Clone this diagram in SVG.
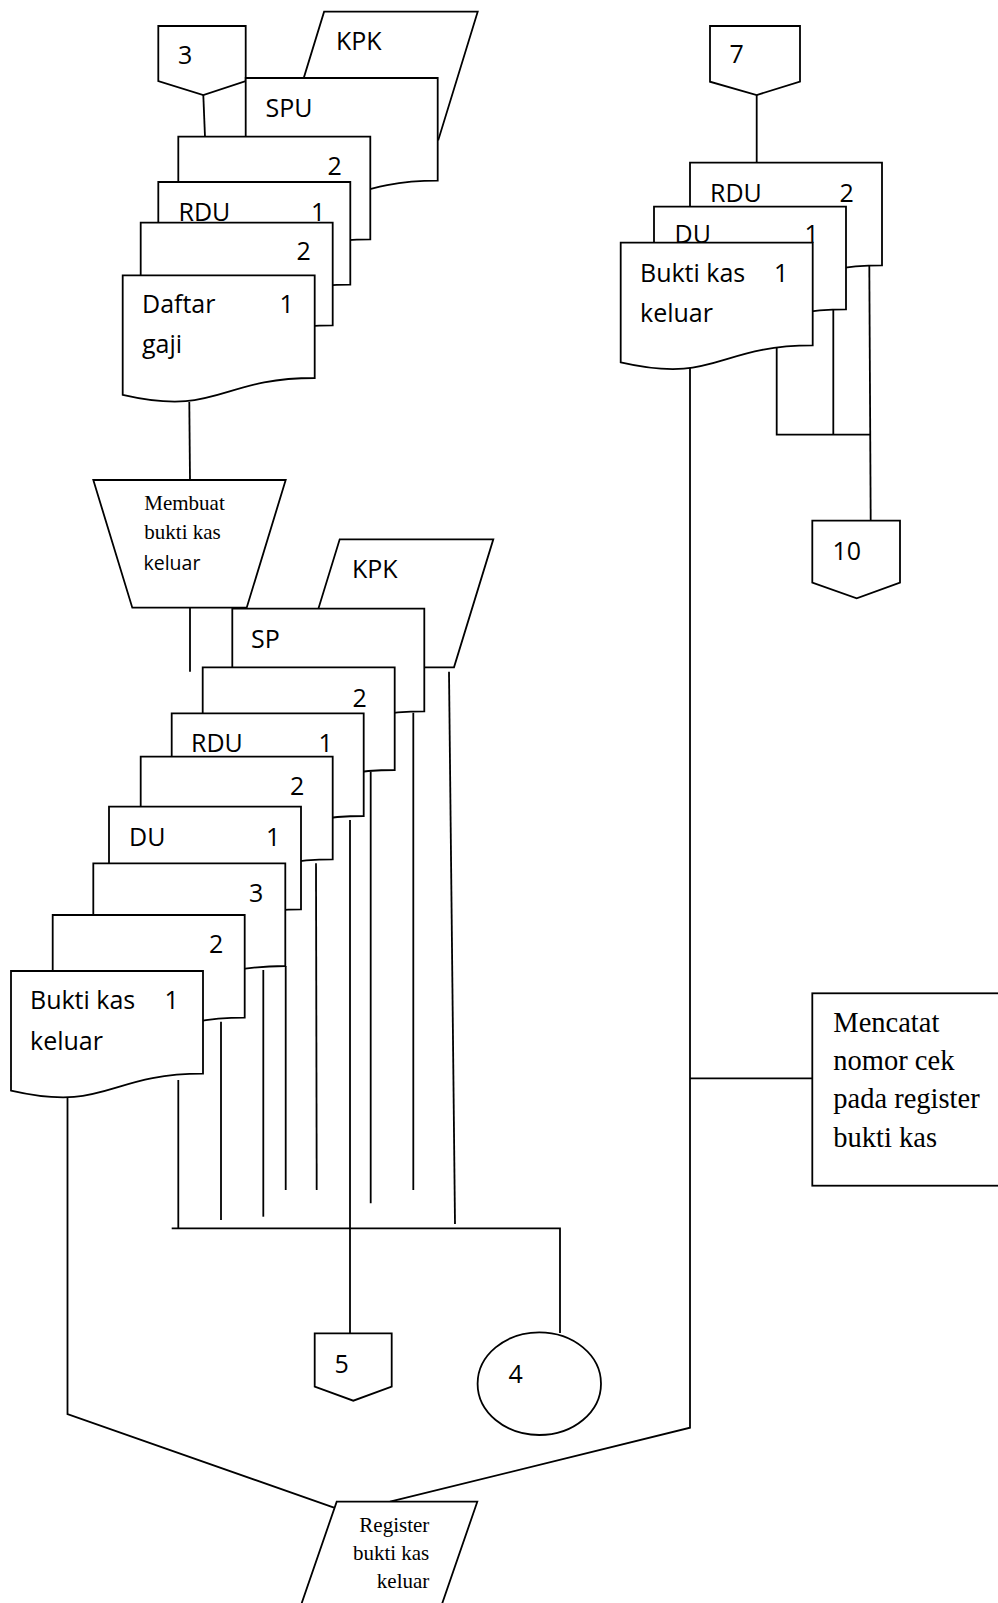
<svg xmlns="http://www.w3.org/2000/svg" xmlns:xlink="http://www.w3.org/1999/xlink" width="998" height="1603" viewBox="0 0 998 1603">
  <style>
    .shape { fill: #ffffff; stroke: #000000; stroke-width: 1.8; stroke-linejoin: miter; }
    .wire { fill: none; stroke: #000000; stroke-width: 1.8; }
    .sans { font-family: "Open Sans", "Liberation Sans", sans-serif; font-size: 25px; fill: #000000; }
    .sans-s { font-family: "Open Sans", "Liberation Sans", sans-serif; font-size: 19.5px; fill: #000000; }
    .serif { font-family: "Liberation Serif", "Times New Roman", serif; font-size: 21px; fill: #000000; }
    .serif-l { font-family: "Liberation Serif", "Times New Roman", serif; font-size: 28.5px; fill: #000000; }
  </style>
  <defs>
    <!-- document sheet with wavy lower edge, 192 x 128 -->
    <path id="doc" d="M0,0 H192 V102.7 C96,102.7 96,141.7 0,119.6 Z"/>
    <!-- manual input / card parallelogram -->
    <path id="kpk" d="M39.3,0 H192.9 L153.6,128 H0 Z"/>
  </defs>

  <rect x="0" y="0" width="998" height="1603" fill="#ffffff"/>

  <g id="connectors" class="wire">
    <polyline points="203.3,95 205,136.7"/>
    <polyline points="189.3,402 190,480"/>
    <polyline points="190,607.7 190,671.7"/>
    <polyline points="449,671.7 455,1224"/>
    <polyline points="413.3,712.7 413.3,1190"/>
    <polyline points="370.7,771.7 370.7,1203.3"/>
    <polyline points="350,820 350,1333.3"/>
    <polyline points="316,863.3 316.7,1190"/>
    <polyline points="285.7,966 285.7,1190"/>
    <polyline points="263.3,970 263.3,1216.7"/>
    <polyline points="221,1021.7 221,1220"/>
    <polyline points="178.3,1080 178.3,1228.3"/>
    <polyline points="171.7,1228.3 560,1228.3 560,1333"/>
    <polyline points="67.5,1097 67.5,1414 334,1507.7"/>
    <polyline points="390,1501.7 690,1427.7 690,368"/>
    <polyline points="690,1078.3 812.3,1078.3"/>
    <polyline points="756.7,95 756.7,162.7"/>
    <polyline points="869.3,265 870.7,520.7"/>
    <polyline points="833.3,309.3 833.3,434.7"/>
    <polyline points="776.7,348 776.7,434.7 870.7,434.7"/>
  </g>

  <!-- upper left stack -->
  <g id="kpk-top">
    <use xlink:href="#kpk" href="#kpk" class="shape" transform="translate(284.8,11.7)"/>
    <text class="sans" x="336" y="50">KPK</text>
  </g>
  <g id="conn-3">
    <path class="shape" d="M158.3,26 H245.7 V81 L203.3,95 L158.3,81 Z"/>
    <text class="sans" x="178" y="64">3</text>
  </g>
  <g id="spu">
    <use xlink:href="#doc" href="#doc" class="shape" transform="translate(245.7,78)"/>
    <text class="sans" x="265.5" y="116.7">SPU</text>
  </g>
  <g id="doc-a2">
    <use xlink:href="#doc" href="#doc" class="shape" transform="translate(178.3,136.7)"/>
    <text class="sans" x="327.5" y="175">2</text>
  </g>
  <g id="rdu-a1">
    <use xlink:href="#doc" href="#doc" class="shape" transform="translate(158.3,182)"/>
    <text class="sans" x="178.5" y="221">RDU</text>
    <text class="sans" x="311" y="221">1</text>
  </g>
  <g id="doc-b2">
    <use xlink:href="#doc" href="#doc" class="shape" transform="translate(140.7,222.7)"/>
    <text class="sans" x="296.5" y="260">2</text>
  </g>
  <g id="daftar-gaji">
    <use xlink:href="#doc" href="#doc" class="shape" transform="translate(122.7,275.3)"/>
    <text class="sans" x="142" y="313">Daftar</text>
    <text class="sans" x="279.5" y="313">1</text>
    <text class="sans" x="142" y="352.7">gaji</text>
  </g>

  <!-- manual operation -->
  <g id="membuat-bkk">
    <path class="shape" d="M93.3,480 H285.7 L246.7,607.7 H132.3 Z"/>
    <text class="serif" x="144.3" y="510">Membuat</text>
    <text class="serif" x="144.3" y="539">bukti kas</text>
    <text class="sans-s" x="143.5" y="570">keluar</text>
  </g>

  <!-- lower left stack -->
  <g id="kpk-low">
    <use xlink:href="#kpk" href="#kpk" class="shape" transform="translate(300.4,539.3)"/>
    <text class="sans" x="352" y="578.3">KPK</text>
  </g>
  <g id="sp">
    <use xlink:href="#doc" href="#doc" class="shape" transform="translate(232.3,608.7)"/>
    <text class="sans" x="251" y="648.3">SP</text>
  </g>
  <g id="doc-c2">
    <use xlink:href="#doc" href="#doc" class="shape" transform="translate(202.7,667.3)"/>
    <text class="sans" x="352.5" y="706.7">2</text>
  </g>
  <g id="rdu-c1">
    <use xlink:href="#doc" href="#doc" class="shape" transform="translate(171.7,713.3)"/>
    <text class="sans" x="191" y="751.7">RDU</text>
    <text class="sans" x="318.5" y="751.7">1</text>
  </g>
  <g id="doc-d2">
    <use xlink:href="#doc" href="#doc" class="shape" transform="translate(140.7,756.7)"/>
    <text class="sans" x="290" y="795">2</text>
  </g>
  <g id="du-d1">
    <use xlink:href="#doc" href="#doc" class="shape" transform="translate(109,806.7)"/>
    <text class="sans" x="129" y="846">DU</text>
    <text class="sans" x="266" y="846">1</text>
  </g>
  <g id="doc-e3">
    <use xlink:href="#doc" href="#doc" class="shape" transform="translate(93.3,863.3)"/>
    <text class="sans" x="249" y="901.7">3</text>
  </g>
  <g id="doc-f2">
    <use xlink:href="#doc" href="#doc" class="shape" transform="translate(52.7,915)"/>
    <text class="sans" x="209" y="952.7">2</text>
  </g>
  <g id="bkk-low">
    <use xlink:href="#doc" href="#doc" class="shape" transform="translate(11,971)"/>
    <text class="sans" x="30" y="1009.3">Bukti kas</text>
    <text class="sans" x="164.5" y="1009.3">1</text>
    <text class="sans" x="30" y="1050">keluar</text>
  </g>

  <g id="conn-5">
    <path class="shape" d="M314.7,1333.3 H391.7 V1386.7 L353.3,1400.7 L314.7,1386.7 Z"/>
    <text class="sans" x="334.5" y="1372.7">5</text>
  </g>
  <g id="conn-4">
    <ellipse class="shape" cx="539.3" cy="1383.7" rx="61.7" ry="51.3"/>
    <text class="sans" x="508.5" y="1383.3">4</text>
  </g>

  <g id="register-bkk">
    <path class="shape" d="M336.7,1501.7 H477.3 L435.9,1621.7 H295.3 Z"/>
    <text class="serif" x="429.3" y="1531.7" text-anchor="end">Register</text>
    <text class="serif" x="429.3" y="1560" text-anchor="end">bukti kas</text>
    <text class="serif" x="429.3" y="1588.3" text-anchor="end">keluar</text>
  </g>

  <!-- right stack -->
  <g id="conn-7">
    <path class="shape" d="M710,26 H800 V81.7 L756.7,95 L710,81.7 Z"/>
    <text class="sans" x="729.5" y="63.3">7</text>
  </g>
  <g id="rdu-r2">
    <use xlink:href="#doc" href="#doc" class="shape" transform="translate(690,162.7)"/>
    <text class="sans" x="710" y="201.7">RDU</text>
    <text class="sans" x="839.5" y="201.7">2</text>
  </g>
  <g id="du-r1">
    <use xlink:href="#doc" href="#doc" class="shape" transform="translate(654,206.7)"/>
    <text class="sans" x="674.5" y="243.3">DU</text>
    <text class="sans" x="804.5" y="243.3">1</text>
  </g>
  <g id="bkk-right">
    <use xlink:href="#doc" href="#doc" class="shape" transform="translate(620.7,242.7)"/>
    <text class="sans" x="640" y="281.7">Bukti kas</text>
    <text class="sans" x="774" y="281.7">1</text>
    <text class="sans" x="640" y="321.7">keluar</text>
  </g>
  <g id="conn-10">
    <path class="shape" d="M812.3,520.7 H900 V582.7 L856.7,598.3 L812.3,582.7 Z"/>
    <text class="sans" x="832.5" y="560">10</text>
  </g>

  <g id="catat-nomor-cek">
    <rect class="shape" x="812.3" y="993.3" width="200" height="192.4"/>
    <text class="serif-l" x="833.3" y="1031.7">Mencatat</text>
    <text class="serif-l" x="833.3" y="1070">nomor cek</text>
    <text class="serif-l" x="833.3" y="1108.3">pada register</text>
    <text class="serif-l" x="833.3" y="1146.5">bukti kas</text>
  </g>
</svg>
